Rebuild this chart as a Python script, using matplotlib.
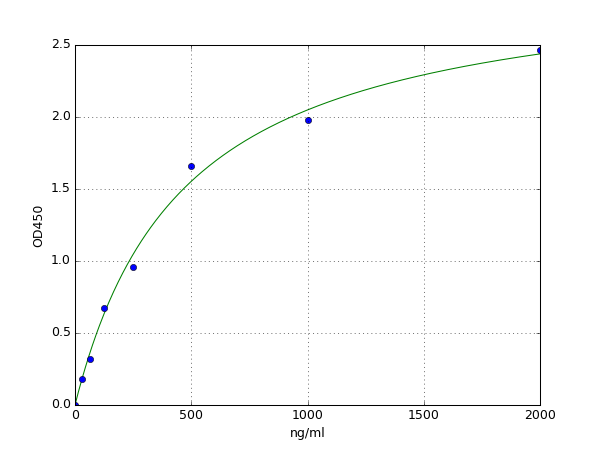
import numpy as np
import matplotlib
matplotlib.use("Agg")
import matplotlib.pyplot as plt

plt.style.use("classic")

conc = [0, 31.25, 62.5, 125, 250, 500, 1000, 2000]
od450 = [0.0, 0.18, 0.317, 0.671, 0.956, 1.66, 1.979, 2.463]

# fitted saturation curve parameters
fit_vmax = 3.01
fit_k = 469.0

fig = plt.figure(figsize=(8, 6), dpi=75)
ax = fig.add_subplot(111)

xs = np.linspace(0, 2000, 400)
ax.plot(xs, fit_vmax * xs / (fit_k + xs), "g-")
ax.plot(conc, od450, "bo", markersize=6)

ax.set_xlim(0, 2000)
ax.set_ylim(0, 2.5)
ax.set_xlabel("ng/ml")
ax.set_ylabel("OD450")
ax.grid(True)

fig.savefig("out.png", dpi=75)
